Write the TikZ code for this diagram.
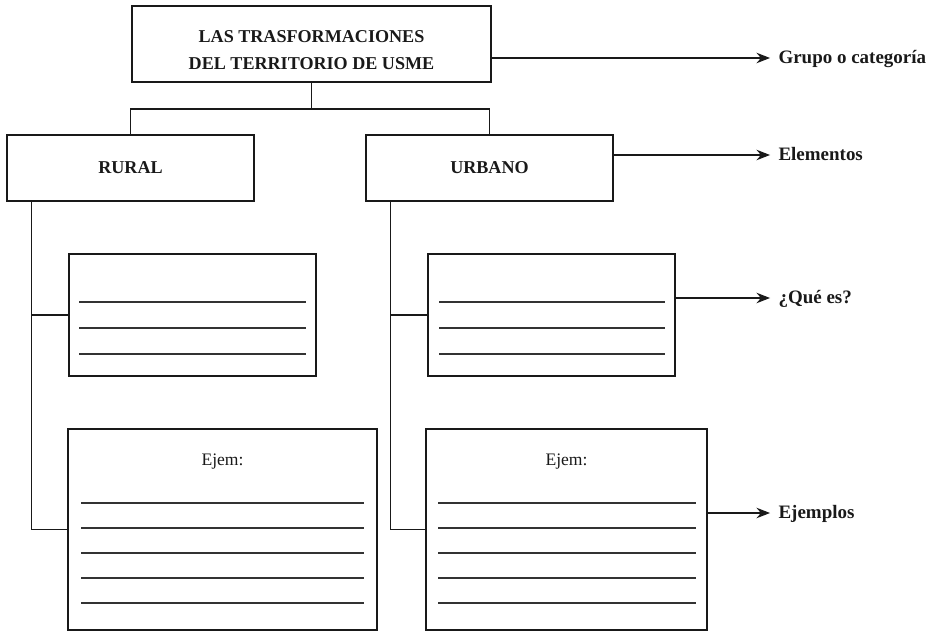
\documentclass[tikz,border=0pt]{standalone}
\usepackage{fontspec}
\setmainfont{Liberation Serif}
\usetikzlibrary{arrows.meta}

\tikzset{
  box/.style={draw, minimum width=4.94cm, minimum height=1.32cm, inner sep=0pt, align=center,
    font=\bfseries\fontsize{10.3}{15.4}\selectfont},
  tag/.style={anchor=west, inner xsep=0.16cm, text height=1.45ex, text depth=0pt,
    font=\bfseries\fontsize{10.8}{13}\selectfont},
  guide/.style={black!80, line width=0.6pt}
}

\begin{document}
\begin{tikzpicture}[>={Stealth[length=2.7mm,width=2.1mm]}, line width=0.6pt, color=black!90]
         \useasboundingbox (0,0) rectangle (18.56,-12.62);
         \node[box, minimum width=7.18cm, minimum height=1.52cm] (tema) at (6.23,-0.88) {\rule{0pt}{4.8mm}LAS TRASFORMACIONES\\DEL TERRITORIO DE USME};
         \node[box] (rural) at (2.61,-3.36) {RURAL};
         \node[box] (urbano) at (9.79,-3.36) {URBANO};
         \node[box, minimum height=2.44cm] (defr) at (3.85,-6.30) {};
         \node[box, minimum height=2.44cm] (defu) at (11.03,-6.30) {};
         \node[box, minimum width=6.18cm, minimum height=4.02cm] (ejr) at (4.45,-10.59) {};
         \node[box, minimum width=5.62cm, minimum height=4.02cm] (eju) at (11.33,-10.59) {};
         \node[text height=1.45ex, text depth=0pt, font=\fontsize{10}{12}\selectfont] (ejemr) at (4.45,-9.20) {Ejem:};
         \node[text height=1.45ex, text depth=0pt, font=\fontsize{10}{12}\selectfont] (ejemu) at (11.33,-9.20) {Ejem:};
         \node[tag] (grupo) at (15.40,-1.16) {Grupo o categoría};
         \node[tag] (elem) at (15.40,-3.10) {Elementos};
         \node[tag] (quees) at (15.40,-5.96) {¿Qué es?};
         \node[tag] (ejemplos) at (15.40,-10.26) {Ejemplos};
         \coordinate (split) at (6.23,-2.18);
         \draw (tema.south) -- (split);
         \draw (rural.north) |- (split) -| (urbano.north);
         \draw ([xshift=5mm]rural.south west) |- (defr.west);
         \draw ([xshift=5mm]rural.south west) |- (ejr.west);
         \draw ([xshift=5mm]urbano.south west) |- (defu.west);
         \draw ([xshift=5mm]urbano.south west) |- (eju.west);
         \draw[->] (tema.east |- grupo.west) -- (grupo.west);
         \draw[->] (urbano.east |- elem.west) -- (elem.west);
         \draw[->] (defu.east |- quees.west) -- (quees.west);
         \draw[->] (eju.east |- ejemplos.west) -- (ejemplos.west);
         \foreach \y in {-6.04,-6.56,-7.08} {
            \draw[guide] (1.58,\y) -- (6.12,\y);
            \draw[guide] (8.78,\y) -- (13.30,\y);
         }
         \foreach \y in {-10.06,-10.56,-11.06,-11.56,-12.06} {
            \draw[guide] (1.62,\y) -- (7.28,\y);
            \draw[guide] (8.76,\y) -- (13.92,\y);
         }
      \end{tikzpicture}
\end{document}
